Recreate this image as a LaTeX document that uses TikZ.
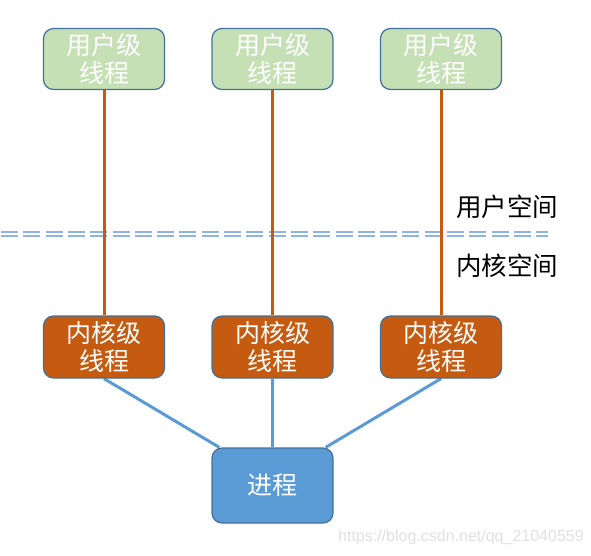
\documentclass[tikz,border=0pt]{standalone}
\usepackage{fontspec}
\newfontfamily\cjk{Noto Sans CJK SC}
\setmainfont{Liberation Sans}
\usetikzlibrary{calc,backgrounds}
\definecolor{greenfill}{HTML}{C5E0B4}
\definecolor{orangefill}{HTML}{C55A11}
\definecolor{bluefill}{HTML}{5B9BD5}
\definecolor{edgeblue}{HTML}{41719C}
\definecolor{dashblue}{HTML}{8DB4E2}
\tikzset{
  box/.style={draw=edgeblue, line width=1.2pt, rounded corners=10pt, minimum width=121pt, align=center, text=white, font=\cjk\fontsize{25}{27.5}\selectfont, inner sep=0pt},
  userbox/.style={box, fill=greenfill, minimum height=61pt},
  kernbox/.style={box, fill=orangefill, minimum height=62pt},
  procbox/.style={box, fill=bluefill, minimum height=75pt},
  orangeline/.style={draw=orangefill, line width=3pt},
  blueline/.style={draw=bluefill, line width=3pt},
  sepline/.style={draw=dashblue, line width=2pt, dash pattern=on 17pt off 5.3pt},
  spacelabel/.style={font=\cjk\fontsize{25.5}{28}\selectfont, text=black, anchor=west, inner sep=0pt}
}
\begin{document}
\begin{tikzpicture}[x=1pt,y=-1pt]
\useasboundingbox (0,0) rectangle (591,555);
% nodes
\node[userbox] (t1) at (104,59) {用户级\\线程};
\node[userbox] (t2) at (272.5,59) {用户级\\线程};
\node[userbox] (t3) at (441,59) {用户级\\线程};
\node[kernbox] (k1) at (104,347) {内核级\\线程};
\node[kernbox] (k2) at (272.5,347) {内核级\\线程};
\node[kernbox] (k3) at (441,347) {内核级\\线程};
\node[procbox] (p) at (272.5,485.5) {进程};
% labels
\node[spacelabel] (ul) at (456,207) {用户空间};
\node[spacelabel] (kl) at (456,266) {内核空间};
\node[font=\fontsize{16}{18}\selectfont, text=black!12, anchor=west, inner sep=0pt] (wm) at (338,537) {https://blog.csdn.net/qq\_21040559};
% separator ends
\coordinate (s1a) at (1,231.5);
\coordinate (s1b) at (548,231.5);
\coordinate (s2a) at (1,235.5);
\coordinate (s2b) at (548,235.5);
\begin{scope}[on background layer]
\path[sepline] (s1a) -- (s1b);
\path[sepline] (s2a) -- (s2b);
\path[orangeline] (t1.south) -- (k1.north);
\path[orangeline] (t2.south) -- (k2.north);
\path[orangeline] (t3.south) -- (k3.north);
\path[blueline] (k1.south) -- ($(p.north west)+(8,0)$);
\path[blueline] (k2.south) -- (p.north);
\path[blueline] (k3.south) -- ($(p.north east)+(-8,0)$);
\end{scope}
\end{tikzpicture}
\end{document}
